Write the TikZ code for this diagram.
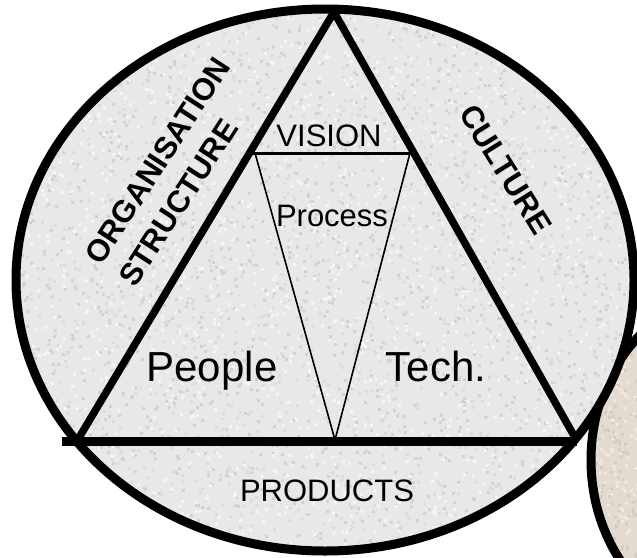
\documentclass[tikz,border=0pt]{standalone}
\usepackage{fontspec}
\setmainfont{Liberation Sans}
\definecolor{granite}{HTML}{E8E8E8}
\definecolor{graniteA}{HTML}{D2D2D2}
\definecolor{graniteB}{HTML}{F5F5F5}
\definecolor{graniteC}{HTML}{DCDCDC}
\definecolor{sand}{HTML}{E3DBCF}
\definecolor{sandA}{HTML}{D6CDBF}
\definecolor{sandB}{HTML}{EEE8DE}
\begin{document}
\begin{tikzpicture}[x=1pt,y=-1pt,
  rim/.style={line width=9pt},
  thickline/.style={line width=7.5pt, line join=round},
  baseline/.style={line width=9pt},
  thinline/.style={line width=1.6pt},
  topline/.style={line width=3pt},
  lbl/.style={inner sep=0pt, font=\fontsize{31}{36}\selectfont},
  biglbl/.style={inner sep=0pt, font=\fontsize{42}{48}\selectfont},
  sidelbl/.style={inner sep=0pt, font=\bfseries\fontsize{31}{40}\selectfont},
]
\useasboundingbox (0,0) rectangle (637,557);
\fill[white] (0,0) rectangle (637,557);
\clip (0,0) rectangle (637,557);
% second (beige) ellipse, behind
\fill[sand] (741,460) ellipse [x radius=150pt, y radius=169pt];
\begin{scope}
  \clip (741,460) ellipse [x radius=150pt, y radius=169pt];
  \pgfmathsetseed{11}
  \foreach \i in {1,...,350}{
    \pgfmathsetmacro\px{580+rnd*60}
    \pgfmathsetmacro\py{330+rnd*230}
    \pgfmathtruncatemacro\c{rnd*2}
    \ifnum\c=0 \fill[sandA] (\px,\py) rectangle ++(3,3);\else\fill[sandB] (\px,\py) rectangle ++(3,3);\fi
  }
\end{scope}
\draw[rim] (741,460) ellipse [x radius=150pt, y radius=169pt];
% main ellipse
\fill[granite] (325,280) ellipse [x radius=309pt, y radius=271pt];
\begin{scope}
  \clip (325,280) ellipse [x radius=309pt, y radius=271pt];
  \pgfmathsetseed{7}
  \foreach \i in {1,...,4500}{
    \pgfmathsetmacro\px{14+rnd*622}
    \pgfmathsetmacro\py{8+rnd*545}
    \pgfmathtruncatemacro\c{rnd*3}
    \ifcase\c \fill[graniteA] (\px,\py) rectangle ++(3,3);\or\fill[graniteB] (\px,\py) rectangle ++(3,3);\else\fill[graniteC] (\px,\py) rectangle ++(3,3);\fi
  }
\end{scope}
\draw[rim] (325,280) ellipse [x radius=309pt, y radius=271pt];
% key points
\coordinate (apex) at (334,12);
\coordinate (bl) at (77,441);
\coordinate (br) at (577,441);
\coordinate (bstart) at (62,441);
\coordinate (vl) at (250,153);
\coordinate (vr) at (414,153);
\coordinate (vli) at (255,153);
\coordinate (vri) at (410,153);
\coordinate (vb) at (335,440);
% inverted triangle
\draw[thinline] (vli) -- (vb) -- (vri);
\draw[topline] (vl) -- (vr);
% main triangle
\draw[thickline] (bl) -- (apex) -- (br);
\draw[baseline] (bstart) -- (br);
% labels
\node[lbl, anchor=base] (vision) at (329,146) {VISION};
\node[lbl, anchor=base] (process) at (332,226) {Process};
\node[biglbl, anchor=base] (people) at (212,381) {People};
\node[biglbl, anchor=base] (tech) at (436,381) {Tech.};
\node[lbl, anchor=base] (products) at (327,501) {PRODUCTS};
\node[sidelbl, rotate=57, align=left] (org) at (174.5,171.8) {ORGANISATION\\STRUCTURE};
\node[sidelbl, rotate=-58] (culture) at (505.8,169.2) {CULTURE};
\end{tikzpicture}
\end{document}
